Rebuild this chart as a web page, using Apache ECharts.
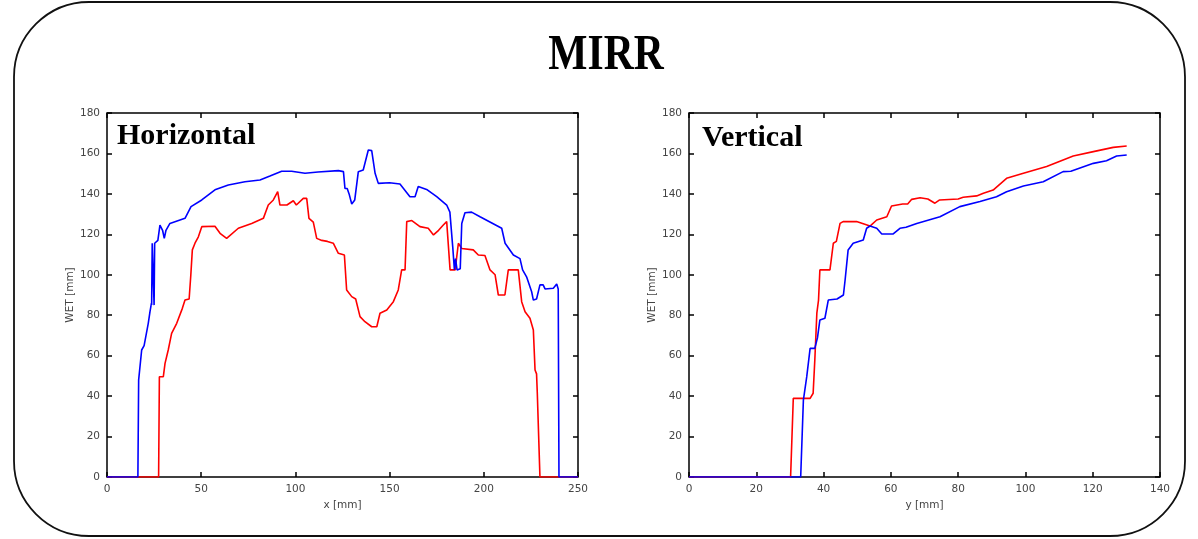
<!DOCTYPE html>
<html lang="en">
<head>
    <meta charset="UTF-8">
    <title>MIRR - WET profiles</title>
    <script src="https://cdn.jsdelivr.net/npm/echarts@6/dist/echarts.min.js"></script>
    <style>
        html, body {
            margin: 0;
            padding: 0;
            background: #fff;
        }

        #chart {
            width: 1198px;
            height: 539px;
        }
    </style>
</head>
<body>
<div id="chart"></div>
<script>
    // horizontal profile, [x mm, WET mm]
    const horizontalBlue = [
        [0, 0], [16.4, 0], [16.8, 48], [18.4, 62.8], [19.7, 65], [21.9, 76], [22.8, 81.7], [23.6, 86],
        [23.7, 85], [24.0, 115.6], [25.0, 85], [25.3, 115.6], [26.0, 115], [27.0, 117], [28.1, 124.6],
        [29.5, 122], [30.4, 118], [31.3, 122], [33.4, 125.4], [41.4, 127.9], [44.6, 133.7], [50.3, 137],
        [57.3, 142], [64.4, 144.4], [73.2, 146], [81.2, 146.9], [86.5, 148.8], [92.7, 151.2], [98, 151.2],
        [105.1, 150.2], [112, 150.8], [122.8, 151.5], [125.5, 151], [126.3, 142.7], [127.5, 142.7],
        [128.5, 140], [129.9, 135], [131.5, 137], [133.4, 151], [136, 151.8], [138.7, 161.7], [140.5, 161.4],
        [142.3, 150.2], [144, 145.2], [150, 145.5], [155.5, 144.9], [160.8, 138.6], [163.5, 138.6],
        [165.2, 143.6], [170, 142], [175, 138.6], [180.3, 134.5], [182, 131], [183.5, 113.9], [184.4, 102.4],
        [185, 108], [185.8, 102.4], [187.5, 103], [188.3, 125.4], [190, 130.7], [193.5, 131], [198, 128.7],
        [209.5, 123], [211.3, 115.6], [215.7, 109.8], [219.2, 108], [220.6, 102.4], [222.7, 99],
        [225.4, 91.6], [226.3, 87.5], [228, 88], [229.8, 95], [231.5, 95], [232.5, 93], [236.9, 93.3],
        [238.7, 95.4], [239.5, 93], [239.9, 0], [250, 0]
    ];
    const horizontalRed = [
        [0, 0], [27.4, 0], [27.8, 49.6], [29.9, 49.6], [30.8, 56.2], [32.5, 62.8], [34.3, 71], [37, 76],
        [40, 83.4], [41.4, 87.5], [43.6, 88], [44.5, 100], [45.3, 112.3], [46.7, 115.6], [48.5, 118.8],
        [50.3, 123.8], [57.3, 124], [60, 120.5], [63.5, 118], [69.7, 123], [76.8, 125.4], [83, 127.9],
        [85.6, 134.5], [88.3, 137], [90.6, 141.1], [91.8, 134.5], [95.5, 134.5], [98.9, 136.6], [100.5, 134.5],
        [104.2, 137.8], [106, 137.8], [107.2, 127.9], [109.5, 126], [111.3, 118], [114, 117], [117, 116.5],
        [120.1, 115.6], [122.8, 110.6], [126, 109.8], [127.2, 92.5], [129.9, 89.2], [132, 88], [134.3, 79.3],
        [136.9, 76.8], [140.5, 74.3], [143.2, 74.3], [144.9, 81], [148.5, 82.6], [152, 86.7], [154.6, 92.5],
        [156.4, 102.4], [158.2, 102.4], [159.1, 126.3], [161.8, 126.8], [166.1, 123.8], [170.5, 123],
        [173.3, 119.7], [176, 122], [178.5, 124.6], [180.3, 126.3], [182.1, 102.4], [184.8, 102.4],
        [186.5, 115.6], [188.3, 113], [194.4, 112.3], [197.1, 109.8], [200.6, 109.5], [203.3, 102.4],
        [206, 100], [207.7, 90], [211.2, 90], [213, 102.4], [218.3, 102.4], [220.1, 86.7], [221.9, 81.7],
        [224.5, 78.5], [226.3, 72.7], [227.2, 52.9], [228, 51], [228.4, 41.4], [229.8, 0], [250, 0]
    ];

    // vertical profile, [y mm, WET mm]
    const verticalBlue = [
        [0, 0], [33.2, 0], [34, 38], [35, 49.6], [36, 63.6], [37.4, 63.6], [38.2, 69], [38.9, 77.6],
        [40.4, 78.5], [41.4, 87.5], [44, 88], [45.9, 90], [46.4, 97.4], [47.3, 112.3], [48.8, 115.6],
        [51.8, 117.2], [52.8, 123], [53.8, 124.1], [55.8, 123], [57.3, 120.2], [60.7, 120.2], [62.7, 123],
        [64.5, 123.5], [67.7, 125.4], [74.6, 128.7], [80.5, 133.7], [86.5, 136.2], [91.4, 138.6],
        [94.4, 141.1], [99.4, 143.9], [105.3, 146], [111.2, 151], [113.5, 151.2], [120.2, 155.1],
        [124.1, 156.4], [127.1, 158.7], [130.1, 159.2]
    ];
    const verticalRed = [
        [0, 0], [30.2, 0], [31, 38.9], [36, 38.9], [36.9, 41.4], [37.4, 57.9], [38, 81], [38.5, 87.5],
        [38.9, 102.4], [41.9, 102.4], [42.9, 115.6], [43.8, 116.5], [44.9, 125.4], [45.8, 126.3],
        [49.8, 126.3], [53.8, 124.1], [55.8, 127.1], [58.8, 128.7], [60.2, 134], [63.5, 135], [65, 135],
        [66.2, 137.3], [68.7, 138.1], [71, 137.5], [73.1, 135.4], [74.5, 137], [80, 137.5], [81.5, 138.3],
        [85.5, 139], [87.5, 140.3], [90.4, 141.9], [94.4, 147.7], [99.4, 150.2], [106.3, 153.5],
        [111.2, 156.8], [114.2, 158.7], [120.2, 160.9], [126.1, 163], [130.1, 163.7]
    ];

    const wetRange = [0, 180, 20];
    const xRange = [0, 250, 50];
    const yRange = [0, 140, 20];

    const labelFont = { fontFamily: 'DejaVu Sans', fontSize: 10.5, color: '#444' };
    const tick = { show: true, inside: true, length: 5, lineStyle: { color: '#000', width: 1.5 } };

    function valueAxis(range, gridIndex, extra) {
        return Object.assign({
            type: 'value',
            gridIndex: gridIndex,
            min: range[0],
            max: range[1],
            interval: range[2],
            // onZero off, otherwise the top/right axes snap onto the zero line
            axisLine: { show: false, onZero: false },
            axisTick: tick,
            splitLine: { show: false },
            axisLabel: Object.assign({ margin: 7 }, labelFont),
            nameTextStyle: labelFont
        }, extra);
    }

    function frameAxis(range, gridIndex, position) {
        return valueAxis(range, gridIndex, { position: position, axisLabel: { show: false } });
    }

    const chart = echarts.init(document.getElementById('chart'));

    const option = {
        animation: false,
        graphic: [
            {
                type: 'rect',
                shape: { x: 14, y: 2, width: 1171, height: 534, r: 75 },
                style: { fill: 'none', stroke: '#111', lineWidth: 1.8 }
            },
            {
                type: 'text',
                x: 606, y: 56, scaleX: 0.83,
                style: {
                    text: 'MIRR', fill: '#000', align: 'center', verticalAlign: 'middle',
                    font: 'bold 50px "Liberation Serif"'
                }
            },
            {
                type: 'text', x: 117, y: 136,
                style: {
                    text: 'Horizontal', fill: '#000', verticalAlign: 'middle',
                    font: 'bold 30px "Liberation Serif"'
                }
            },
            {
                type: 'text', x: 702, y: 138,
                style: {
                    text: 'Vertical', fill: '#000', verticalAlign: 'middle',
                    font: 'bold 30px "Liberation Serif"'
                }
            }
        ],
        grid: [
            { left: 107, top: 113, width: 471, height: 364, show: true, borderColor: '#000', borderWidth: 1.5 },
            { left: 689, top: 113, width: 471, height: 364, show: true, borderColor: '#000', borderWidth: 1.5 }
        ],
        xAxis: [
            valueAxis(xRange, 0, { position: 'bottom', name: 'x [mm]', nameLocation: 'middle', nameGap: 20 }),
            valueAxis(yRange, 1, { position: 'bottom', name: 'y [mm]', nameLocation: 'middle', nameGap: 20 }),
            frameAxis(xRange, 0, 'top'),
            frameAxis(yRange, 1, 'top')
        ],
        yAxis: [
            valueAxis(wetRange, 0, { position: 'left', name: 'WET [mm]', nameLocation: 'middle', nameGap: 28 }),
            valueAxis(wetRange, 1, { position: 'left', name: 'WET [mm]', nameLocation: 'middle', nameGap: 28 }),
            frameAxis(wetRange, 0, 'right'),
            frameAxis(wetRange, 1, 'right')
        ],
        series: [
            { type: 'line', xAxisIndex: 0, yAxisIndex: 0, data: horizontalRed, color: '#ff0000' },
            { type: 'line', xAxisIndex: 0, yAxisIndex: 0, data: horizontalBlue, color: '#0000ff' },
            { type: 'line', xAxisIndex: 1, yAxisIndex: 1, data: verticalRed, color: '#ff0000' },
            { type: 'line', xAxisIndex: 1, yAxisIndex: 1, data: verticalBlue, color: '#0000ff' }
        ].map(s => Object.assign(s, {
            showSymbol: false,
            lineStyle: { width: 1.6 },
            emphasis: { disabled: true }
        }))
    };

    chart.setOption(option);
</script>
</body>
</html>
